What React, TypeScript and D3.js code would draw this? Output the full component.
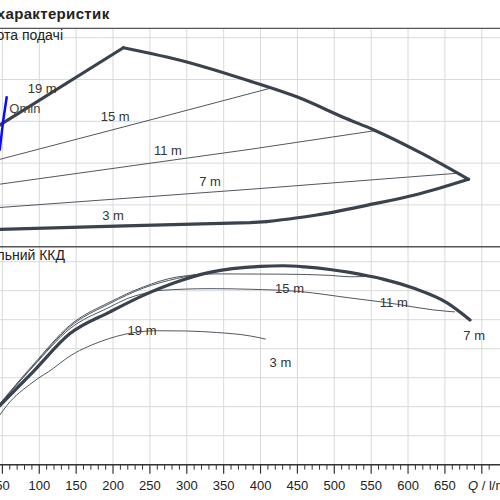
import * as d3 from 'd3';

// flow axis (l/min)
const qTicks = [50, 100, 150, 200, 250, 300, 350, 400, 450, 500, 550, 600, 650, 700];
const headGrid = [5, 10, 15, 20, 25];
const effGrid = [10, 20, 30, 40, 50, 60, 70];

// head panel, [Q, H]
const headMinFlat = [[40, 2.05], [216, 2.48], [386, 2.87], [408, 2.99]];
const headMinRise = [[408, 2.99], [476, 3.79], [544, 4.95], [612, 6.25], [682, 8.06]];
const headMax = [[214, 23.8], [300, 22.1], [386, 19.8], [450, 17.9], [517, 15.3], [553, 14.0], [620, 11.1], [682, 8.06]];
const headLeft = [[214, 23.8], [40, 14.2]];
const head15 = [[40, 10.3], [250, 15.15], [413, 18.95]];
const head11 = [[40, 7.4], [386, 11.65], [553, 13.85]];
const head7 = [[40, 4.65], [386, 6.87], [666, 8.78]];
const qMinLine = [[46.3, 11.5], [50.8, 14.9], [56, 18.0]];
const headLabels = [
  { t: '19 m', q: 104, v: 18.4 },
  { t: '15 m', q: 203, v: 15.05 },
  { t: '11 m', q: 274.5, v: 10.95 },
  { t: '7 m', q: 331.5, v: 7.25 },
  { t: '3 m', q: 200, v: 3.2 },
];

// efficiency panel, [Q, eta %]
const effMain = [[45, 20.0], [91.5, 32.0], [141.6, 45.2], [195.9, 52.7], [241.1, 58.4], [286.3, 63.0], [331, 66.3], [400, 68.4], [430, 68.6], [460, 68.2], [494, 67.3], [521, 66.3], [548, 65.0], [566, 64.0], [607, 60.9], [653, 55.8], [684, 49.9]];
const effA = [[45, 20.6], [91.5, 34.4], [141.6, 48.1], [195.9, 56.1], [241.1, 61.3], [286.3, 64.7], [341, 65.8], [430, 65.7], [494, 65.3], [521, 64.8], [553, 64.9]];
const effC = [[45, 20.4], [91.5, 34.0], [141.6, 47.6], [195.9, 55.6], [241.1, 60.9], [286.3, 64.2], [320, 65.9]];
const effB = [[45, 20.4], [91.5, 33.8], [141.6, 46.9], [195.9, 54.4], [218.6, 57.2], [241.1, 59.0], [263.7, 60.1], [331.5, 60.7], [385.7, 60.5], [453.5, 59.7], [521.3, 57.5], [562, 56.2], [657, 52.8], [663.6, 52.7]];
const eff19 = [[45, 16.6], [56, 20.4], [91.5, 28.5], [119, 33.2], [137.6, 36.8], [182.4, 42.4], [227, 45.5], [260, 46.2], [300, 46.1], [340, 45.6], [386, 44.4], [407, 43.3]];
const effLabels = [
  { t: '19 m', q: 239.3, v: 44.7 },
  { t: '15 m', q: 439.3, v: 59.1 },
  { t: '11 m', q: 580.7, v: 54.5 },
  { t: '7 m', q: 689.7, v: 43.0 },
  { t: '3 m', q: 427, v: 33.8 },
];

const W = 500;
const H = 500;
const font = '"Liberation Sans", Arial, sans-serif';
const dark = '#39424d';
const thin = '#4f5761';
const grid = '#d9d9d9';

export default function App() {
  const x = d3.scaleLinear().domain([50, 700]).range([2.4, 481.8]);
  const yH = d3.scaleLinear().domain([0, 25]).range([246.7, 37.7]);
  const yE = d3.scaleLinear().domain([0, 70]).range([464.7, 261.7]);

  const lineH = d3.line<number[]>().x(d => x(d[0])).y(d => yH(d[1]));
  const lineE = d3.line<number[]>().x(d => x(d[0])).y(d => yE(d[1])).curve(d3.curveMonotoneX);
  const curveH = d3.line<number[]>().x(d => x(d[0])).y(d => yH(d[1])).curve(d3.curveMonotoneX);

  const minor = d3.range(40, 711, 10).filter(v => v % 50 !== 0);
  const axisY = yE(0);

  return (
    <svg width={W} height={H} style={{ position: 'absolute', left: 0, top: 0, background: '#fff' }} fontFamily={font}>
      {/* title */}
      <text x={109.5} y={19} textAnchor="end" fontSize={15} letterSpacing={0.35} fontWeight="bold" fill="#222">
        Графік характеристик
      </text>
      <line x1={0} x2={W} y1={28.3} y2={28.3} stroke="#555" strokeWidth={1.2} />

      {/* grid */}
      {qTicks.map(q => (
        <line key={'v' + q} x1={x(q)} x2={x(q)} y1={29} y2={axisY} stroke={grid} strokeWidth={1} />
      ))}
      {headGrid.map(v => (
        <line key={'h' + v} x1={0} x2={W} y1={yH(v)} y2={yH(v)} stroke={grid} strokeWidth={1} />
      ))}
      {effGrid.map(v => (
        <line key={'e' + v} x1={0} x2={W} y1={yE(v)} y2={yE(v)} stroke={grid} strokeWidth={1} />
      ))}
      <line x1={0} x2={W} y1={yH(0)} y2={yH(0)} stroke="#555" strokeWidth={1.4} />

      {/* panel titles */}
      <text x={63} y={40} textAnchor="end" fontSize={14} fill="#222">Висота подачі</text>
      <text x={65} y={260} textAnchor="end" fontSize={14} fill="#222">Загальний ККД</text>

      {/* head curves */}
      <g fill="none" stroke={thin} strokeWidth={1}>
        <path d={lineH(head15)!} />
        <path d={lineH(head11)!} />
        <path d={lineH(head7)!} />
      </g>
      <g fill="none" stroke={dark} strokeWidth={3.2} strokeLinejoin="round" strokeLinecap="round">
        <path d={lineH(headMinFlat)!} />
        <path d={curveH(headMinRise)!} />
        <path d={curveH(headMax)!} />
        <path d={lineH(headLeft)!} />
      </g>
      <path d={lineH(qMinLine)!} fill="none" stroke="#0a0aff" strokeWidth={2.5} />
      <text x={x(59.4)} y={yH(15.95)} fontSize={13} fill="#444">Qmin</text>
      {headLabels.map(l => (
        <text key={'hl' + l.t} x={x(l.q)} y={yH(l.v)} textAnchor="middle" fontSize={13} fill="#333">{l.t}</text>
      ))}

      {/* efficiency curves */}
      <g fill="none" stroke={thin} strokeWidth={1}>
        <path d={lineE(eff19)!} />
        <path d={lineE(effB)!} />
        <path d={lineE(effC)!} />
        <path d={lineE(effA)!} />
      </g>
      <path d={lineE(effMain)!} fill="none" stroke={dark} strokeWidth={3.2} strokeLinecap="round" />
      {effLabels.map(l => (
        <text key={'el' + l.t} x={x(l.q)} y={yE(l.v)} textAnchor="middle" fontSize={13} fill="#333">{l.t}</text>
      ))}

      {/* x axis */}
      <line x1={0} x2={W} y1={axisY} y2={axisY} stroke="#333" strokeWidth={1.5} />
      {minor.map(q => (
        <line key={'m' + q} x1={x(q)} x2={x(q)} y1={axisY} y2={axisY + 5} stroke="#333" strokeWidth={1} />
      ))}
      {qTicks.map(q => (
        <g key={'t' + q}>
          <line x1={x(q)} x2={x(q)} y1={axisY} y2={axisY + 9} stroke="#333" strokeWidth={1.2} />
          {q < 700 && (
            <text x={x(q)} y={490} textAnchor="middle" fontSize={13} fill="#222">{q}</text>
          )}
        </g>
      ))}
      <text x={468} y={490} fontSize={13} fill="#222">
        <tspan fontStyle="italic">Q</tspan> / l/min
      </text>
    </svg>
  );
}
